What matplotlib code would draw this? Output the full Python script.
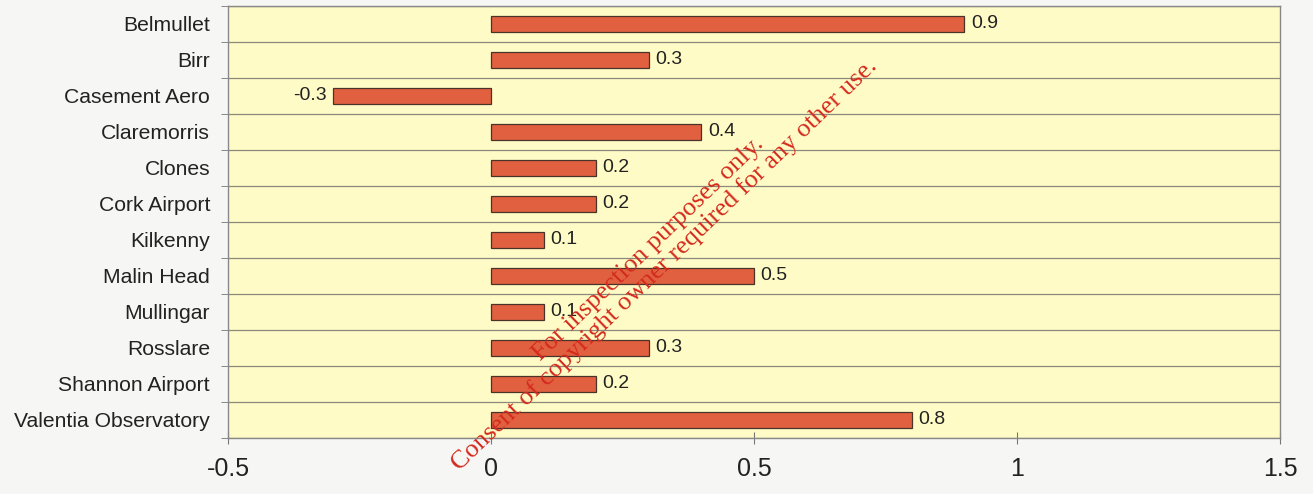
import matplotlib.pyplot as plt
import numpy as np

# station names and values, top to bottom
stations = ["Belmullet", "Birr", "Casement Aero", "Claremorris", "Clones", "Cork Airport",
            "Kilkenny", "Malin Head", "Mullingar", "Rosslare", "Shannon Airport",
            "Valentia Observatory"]
values = [0.9, 0.3, -0.3, 0.4, 0.2, 0.2, 0.1, 0.5, 0.1, 0.3, 0.2, 0.8]
xticks = [-0.5, 0, 0.5, 1, 1.5]
xtick_labels = ["-0.5", "0", "0.5", "1", "1.5"]

plt.rcParams['font.family'] = ['Liberation Sans', 'DejaVu Sans']

fig = plt.figure(figsize=(13.13, 4.94), dpi=100)
fig.patch.set_facecolor('#f6f6f4')
ax = fig.add_axes([0.1737, 0.1134, 0.8012, 0.8745])
ax.set_facecolor('#fffbc6')

y = np.arange(len(stations))
ax.barh(y, values, height=0.45, color='#e0603f', edgecolor='#4a3328', linewidth=0.9, zorder=3)

# value labels
for yi, v in zip(y, values):
    if v >= 0:
        ax.text(v + 0.012, yi, f"{v:g}", va='center', ha='left', fontsize=14, color='#222222', zorder=4)
    else:
        ax.text(v - 0.012, yi, f"{v:g}", va='center', ha='right', fontsize=14, color='#222222', zorder=4)

ax.set_xlim(-0.5, 1.5)
ax.set_ylim(len(stations) - 0.5, -0.5)
ax.set_xticks(xticks)
ax.set_xticklabels(xtick_labels, fontsize=18, color='#222222')
ax.set_yticks(y)
ax.set_yticklabels(stations, fontsize=15.2, color='#222222')
ax.tick_params(axis='y', which='major', length=0, pad=13)
ax.set_yticks(np.arange(len(stations) + 1) - 0.5, minor=True)
ax.tick_params(axis='y', which='minor', length=5, color='#777777')
ax.tick_params(axis='x', direction='inout', length=8, color='#777777', pad=10)
ax.grid(axis='y', which='minor', color='#8a8a7c', linewidth=0.9, zorder=1)

for s in ax.spines.values():
    s.set_color('#888888')
    s.set_linewidth(1.0)

# watermark on the scanned page
fig.text(0.50, 0.48, "For inspection purposes only.\nConsent of copyright owner required for any other use.",
         rotation=44, ha='center', va='center', fontsize=19, color='#d42a1e',
         family=['Liberation Serif', 'DejaVu Serif'], linespacing=1.0,
         rotation_mode='anchor', zorder=10)

fig.savefig("out.png", dpi=100, facecolor=fig.get_facecolor())
